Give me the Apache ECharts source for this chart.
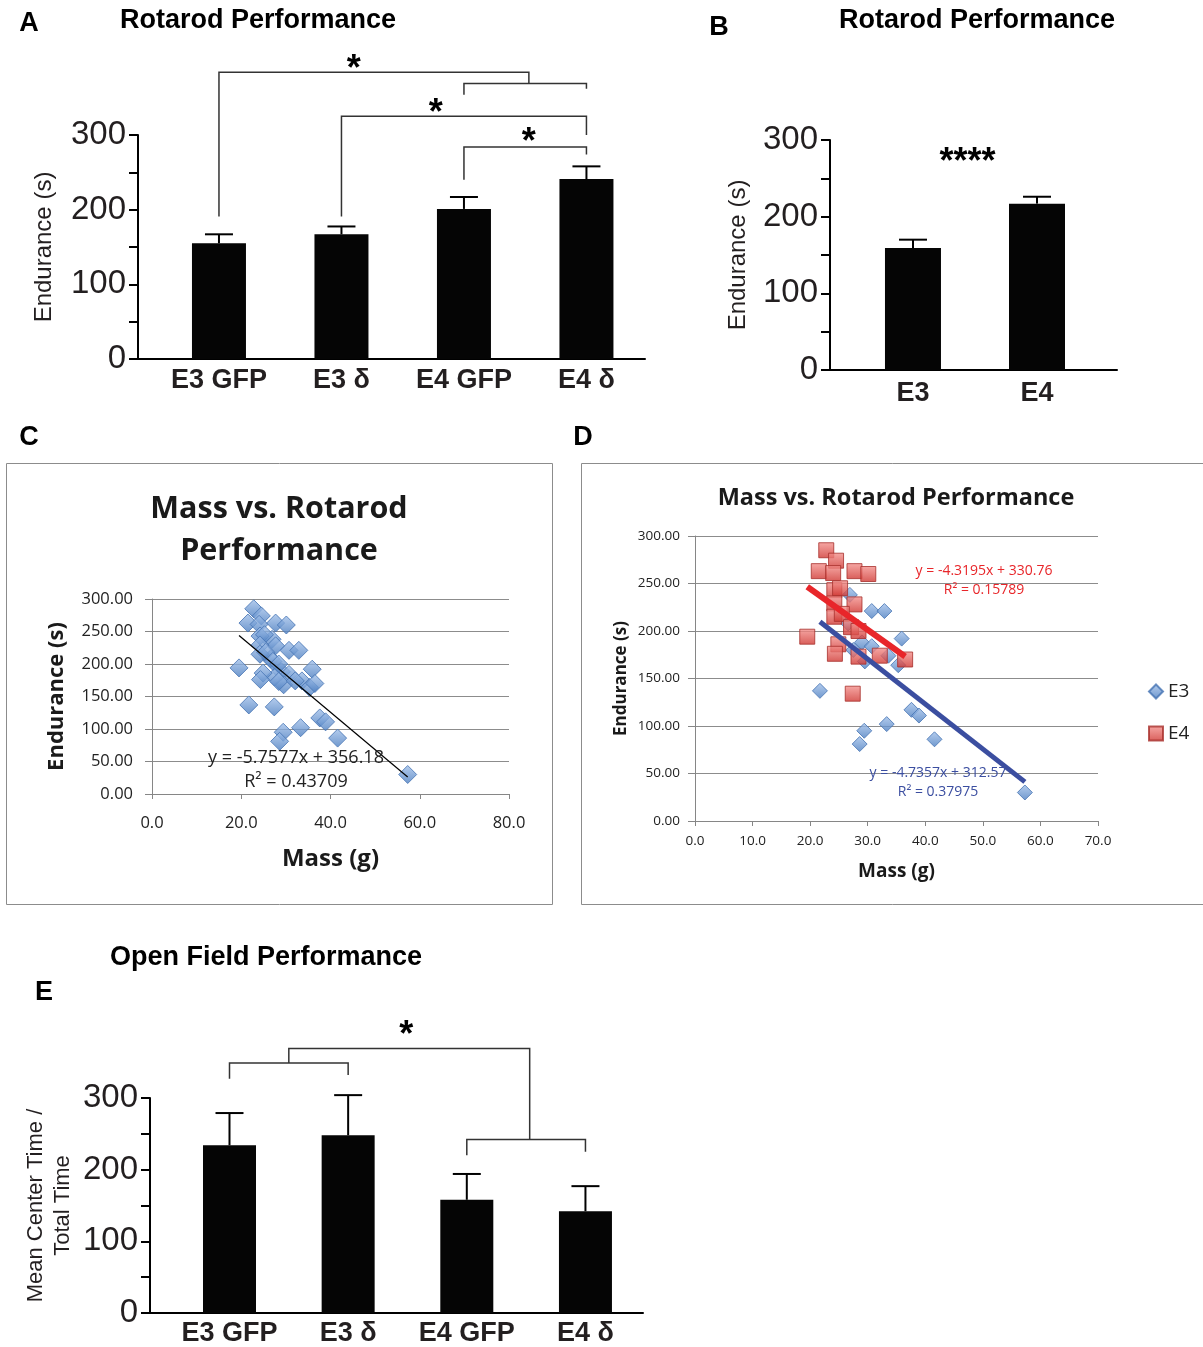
<!DOCTYPE html>
<html>
<head>
<meta charset="utf-8">
<script src="https://cdn.jsdelivr.net/npm/echarts@6/dist/echarts.min.js"></script>
<style>
	html, body { margin: 0; padding: 0; background: #fff; }
	#chart { width: 1203px; height: 1347px; }
</style>
</head>
<body>
<div id="chart"></div>
<script>
// categories
var groups4 = ['E3 GFP', 'E3 δ', 'E4 GFP', 'E4 δ'];
var groups2 = ['E3', 'E4'];

// bar values (mean, sem)
var rotarodMean = [155, 167, 201, 241];
var rotarodSem = [12, 10.5, 16, 17];
var genotypeMean = [159, 217];
var genotypeSem = [11, 9];
var openFieldMean = [234, 248, 158, 142];
var openFieldSem = [45, 56, 36, 35];

// scatter values
var e3Mass = [26.9, 30.7, 32.9, 35.9, 29.0, 30.7, 33.6, 29.5, 35.3, 21.7, 37.6, 38.9, 33.3, 29.4, 28.6, 41.6, 57.3, 27.5, 26.6];
var e3Endurance = [238, 221, 221, 192, 188, 184, 174, 168, 164, 137, 117, 111, 102, 95, 81, 86, 30, 180, 208];
var e4Mass = [22.8, 24.5, 21.5, 24.0, 27.7, 30.1, 24.2, 25.2, 27.7, 24.2, 24.2, 25.5, 27.1, 28.4, 19.5, 24.9, 24.3, 28.4, 32.1, 36.5, 27.4];
var e4Endurance = [285, 274, 263, 261, 263, 260, 243, 245, 228, 229, 215, 218, 204, 200, 194, 186, 176, 173, 174, 170, 134];

// trendline coefficients [slope, intercept]
var fitAll = [-5.7577, 356.18];
var fitE3 = [-4.7357, 312.57];
var fitE4 = [-4.3195, 330.76];

// significance brackets, [category index, value] points
var sigA = [
	[[0, 191], [0, 384], [2.53, 384], [2.53, 369]],
	[[2, 354], [2, 369], [3, 369], [3, 362]],
	[[1, 191], [1, 325], [3, 325], [3, 300]],
	[[2, 240], [2, 284], [3, 284], [3, 274]]
];
var starsA = [[1.1, 400, '*'], [1.77, 342, '*'], [2.53, 302, '*']];
var starsB = [[0.44, 283, '****']];
var sigE = [
	[[0, 327], [0, 349], [1, 349], [1, 332]],
	[[0.5, 349], [0.5, 369], [2.53, 369], [2.53, 242]],
	[[2, 220], [2, 242], [3, 242], [3, 225]]
];
var starsE = [[1.49, 401, '*']];

var HV = '"Liberation Sans", Arial, Helvetica, sans-serif';
var XL = '"Open Sans", Lato, sans-serif';

function pairs(xs, ys) {
	return xs.map(function (x, i) { return [x, ys[i]]; });
}
function trend(fit, xs) {
	var lo = Math.min.apply(null, xs), hi = Math.max.apply(null, xs);
	return [[lo, fit[0] * lo + fit[1]], [hi, fit[0] * hi + fit[1]]];
}

var grids = [
	{ left: 138, top: 135, width: 507, height: 224 },
	{ left: 830, top: 140, width: 287, height: 230 },
	{ left: 152, top: 599, width: 357, height: 195 },
	{ left: 695, top: 536, width: 403, height: 285 },
	{ left: 150, top: 1098, width: 493, height: 218 }
];

var xAxes = [], yAxes = [], series = [];

function barPanel(g, names, means, sems, sig, stars, xMin, xMax, barW, yName, nameGap, labelMargin) {
	var ai = xAxes.length;
	xAxes.push({
		gridIndex: g, type: 'value', min: xMin, max: xMax,
		axisLine: { show: true, onZero: false, lineStyle: { color: '#000', width: 2 } },
		axisTick: { show: false },
		splitLine: { show: false },
		axisLabel: {
			customValues: names.map(function (n, i) { return i; }),
			formatter: function (v) { return names[Math.round(v)]; },
			fontFamily: HV, fontWeight: 'bold', fontSize: 27, color: '#231f20', margin: labelMargin
		}
	});
	yAxes.push({
		gridIndex: g, type: 'value', min: 0, max: 300, interval: 50,
		name: yName, nameLocation: 'middle', nameGap: nameGap,
		nameTextStyle: { fontFamily: HV, fontSize: yName.indexOf('\n') > 0 ? 22 : 24, color: '#231f20', lineHeight: 27 },
		axisLine: { show: true, onZero: false, lineStyle: { color: '#000', width: 2 } },
		axisTick: { show: true, length: 9, lineStyle: { color: '#000', width: 2 } },
		splitLine: { show: false },
		axisLabel: {
			formatter: function (v) { return v % 100 === 0 ? v : ''; },
			fontFamily: HV, fontSize: 33, color: '#231f20', margin: 12
		}
	});
	series.push({
		type: 'bar', xAxisIndex: ai, yAxisIndex: ai, barWidth: barW,
		itemStyle: { color: '#050505' },
		data: means.map(function (m, i) { return [i, m]; })
	});
	series.push({
		type: 'custom', xAxisIndex: ai, yAxisIndex: ai, z: 3,
		data: means.map(function (m, i) { return [i, m, sems[i]]; }),
		renderItem: function (params, api) {
			var base = api.coord([api.value(0), api.value(1)]);
			var top = api.coord([api.value(0), api.value(1) + api.value(2)]);
			var half = 14;
			return { type: 'group', children: [
				{ type: 'line', shape: { x1: base[0], y1: base[1], x2: top[0], y2: top[1] }, style: { stroke: '#000', lineWidth: 2 } },
				{ type: 'line', shape: { x1: top[0] - half, y1: top[1], x2: top[0] + half, y2: top[1] }, style: { stroke: '#000', lineWidth: 2 } }
			] };
		}
	});
	if (sig.length) {
		series.push({
			type: 'custom', xAxisIndex: ai, yAxisIndex: ai, silent: true,
			data: sig.map(function (b) { return [b[0][0], b[0][1]]; }),
			renderItem: function (params, api) {
				var pts = sig[params.dataIndex].map(function (p) { return api.coord(p); });
				return { type: 'polyline', shape: { points: pts }, style: { stroke: '#333', lineWidth: 1.5, fill: null } };
			}
		});
	}
	series.push({
		type: 'custom', xAxisIndex: ai, yAxisIndex: ai, silent: true,
		data: stars.map(function (s) { return [s[0], s[1]]; }),
		renderItem: function (params, api) {
			var c = api.coord([api.value(0), api.value(1)]);
			return { type: 'text', x: c[0], y: c[1] + 10, style: {
				text: stars[params.dataIndex][2], font: 'bold 36px ' + HV,
				textAlign: 'center', textVerticalAlign: 'middle', fill: '#000' } };
		}
	});
}

function xlAxes(g, xMax, xInt, yName, yNameSize, yGap, xNameSize, xGap, tickFs, yMargin, xMargin) {
	var ai = xAxes.length;
	xAxes.push({
		gridIndex: g, type: 'value', min: 0, max: xMax, interval: xInt,
		name: 'Mass (g)', nameLocation: 'middle', nameGap: xGap,
		nameTextStyle: { fontFamily: XL, fontWeight: 'bold', fontSize: xNameSize, color: '#1a1a1a' },
		axisLine: { show: true, onZero: false, lineStyle: { color: '#868686', width: 1 } },
		axisTick: { show: true, length: 5, lineStyle: { color: '#868686' } },
		splitLine: { show: false },
		axisLabel: { formatter: function (v) { return v.toFixed(1); }, fontFamily: XL, fontSize: tickFs, color: '#222', margin: xMargin }
	});
	yAxes.push({
		gridIndex: g, type: 'value', min: 0, max: 300, interval: 50,
		name: yName, nameLocation: 'middle', nameGap: yGap,
		nameTextStyle: { fontFamily: XL, fontWeight: 'bold', fontSize: yNameSize, color: '#1a1a1a' },
		axisLine: { show: true, onZero: false, lineStyle: { color: '#868686', width: 1 } },
		axisTick: { show: true, length: 7, lineStyle: { color: '#868686' } },
		splitLine: { show: true, lineStyle: { color: '#8c8c8c', width: 1 } },
		axisLabel: { formatter: function (v) { return v.toFixed(2); }, fontFamily: XL, fontSize: tickFs, color: '#222', margin: yMargin }
	});
	return ai;
}

barPanel(0, groups4, rotarodMean, rotarodSem, sigA, starsA, -0.661, 3.478, 54, 'Endurance (s)', 80, 8);
barPanel(1, groups2, genotypeMean, genotypeSem, [], starsB, -0.669, 1.645, 56, 'Endurance (s)', 78, 10);
var axC = xlAxes(2, 80, 20, 'Endurance (s)', 22, 84, 24, 53, 16.5, 19, 21);
var axD = xlAxes(3, 70, 10, 'Endurance (s)', 17, 65, 19, 41, 13.5, 15, 13);
barPanel(4, groups4, openFieldMean, openFieldSem, sigE, starsE, -0.67, 3.485, 53, 'Mean Center Time /\nTotal Time', 74, 7);

var blueFill = new echarts.graphic.LinearGradient(0, 0, 0, 1, [
	{ offset: 0, color: '#a3c1ea' }, { offset: 1, color: '#4a7dc0' }]);
var redFill = new echarts.graphic.LinearGradient(0, 0, 0, 1, [
	{ offset: 0, color: '#f4928e' }, { offset: 1, color: '#cf3530' }]);

series.push({
	type: 'scatter', name: 'All', xAxisIndex: axC, yAxisIndex: axC,
	symbol: 'diamond', symbolSize: 18,
	itemStyle: { color: blueFill, borderColor: '#4573b3', borderWidth: 1 },
	data: pairs(e3Mass, e3Endurance).concat(pairs(e4Mass, e4Endurance))
});
series.push({
	type: 'line', xAxisIndex: axC, yAxisIndex: axC, symbol: 'none', silent: true, z: 4,
	lineStyle: { color: '#000', width: 1.2 },
	data: trend(fitAll, e3Mass.concat(e4Mass))
});
series.push({
	type: 'scatter', name: 'E3', xAxisIndex: axD, yAxisIndex: axD,
	symbol: 'diamond', symbolSize: 15,
	itemStyle: { color: blueFill, borderColor: '#4573b3', borderWidth: 1 },
	data: pairs(e3Mass, e3Endurance)
});
series.push({
	type: 'scatter', name: 'E4', xAxisIndex: axD, yAxisIndex: axD,
	symbol: 'rect', symbolSize: 15,
	itemStyle: { color: redFill, borderColor: '#a8302c', borderWidth: 1 },
	data: pairs(e4Mass, e4Endurance)
});
series.push({
	type: 'line', xAxisIndex: axD, yAxisIndex: axD, symbol: 'none', silent: true, z: 4,
	lineStyle: { color: '#3b4ea0', width: 5 },
	data: trend(fitE3, e3Mass)
});
series.push({
	type: 'line', xAxisIndex: axD, yAxisIndex: axD, symbol: 'none', silent: true, z: 4,
	lineStyle: { color: '#e8262a', width: 6 },
	data: trend(fitE4, e4Mass)
});

function txt(s, x, y, font, color, align) {
	return { type: 'text', x: x, y: y, z: 10, silent: true, style: {
		text: s, font: font, fill: color || '#000', textAlign: align || 'center', textVerticalAlign: 'middle' } };
}

var graphics = [
	{ type: 'rect', shape: { x: 6.5, y: 463.5, width: 546, height: 441 }, style: { fill: null, stroke: '#8c8c8c', lineWidth: 1 } },
	{ type: 'rect', shape: { x: 581.5, y: 463.5, width: 640, height: 441 }, style: { fill: null, stroke: '#8c8c8c', lineWidth: 1 } },
	txt('A', 29, 24, 'bold 27px ' + HV),
	txt('B', 719, 28, 'bold 27px ' + HV),
	txt('C', 29, 438, 'bold 27px ' + HV),
	txt('D', 583, 438, 'bold 27px ' + HV),
	txt('E', 44, 993, 'bold 27px ' + HV),
	txt('Rotarod Performance', 258, 21, 'bold 27px ' + HV),
	txt('Rotarod Performance', 977, 21, 'bold 27px ' + HV),
	txt('Open Field Performance', 266, 958, 'bold 27px ' + HV),
	txt('Mass vs. Rotarod', 279, 509, 'bold 30.5px ' + XL, '#1a1a1a'),
	txt('Performance', 279, 551, 'bold 30.5px ' + XL, '#1a1a1a'),
	txt('Mass vs. Rotarod Performance', 896, 498, 'bold 23.5px ' + XL, '#1a1a1a'),
	txt('y = -5.7577x + 356.18', 296, 758, '18px ' + XL, '#222'),
	txt('R² = 0.43709', 296, 782, '18px ' + XL, '#222'),
	txt('y = -4.3195x + 330.76', 984, 571, '14px ' + XL, '#e8262a'),
	txt('R² = 0.15789', 984, 590, '14px ' + XL, '#e8262a'),
	txt('y = -4.7357x + 312.57', 938, 773, '14px ' + XL, '#3b4ea0'),
	txt('R² = 0.37975', 938, 792, '14px ' + XL, '#3b4ea0')
];

var chart = echarts.init(document.getElementById('chart'));
chart.setOption({
	backgroundColor: '#fff',
	animation: false,
	grid: grids,
	xAxis: xAxes,
	yAxis: yAxes,
	legend: {
		data: ['E3', 'E4'], orient: 'vertical', left: 1143, top: 677,
		itemWidth: 14, itemHeight: 14, itemGap: 23,
		textStyle: { fontFamily: XL, fontSize: 19, color: '#222' }
	},
	graphic: graphics,
	series: series
});
</script>
</body>
</html>
